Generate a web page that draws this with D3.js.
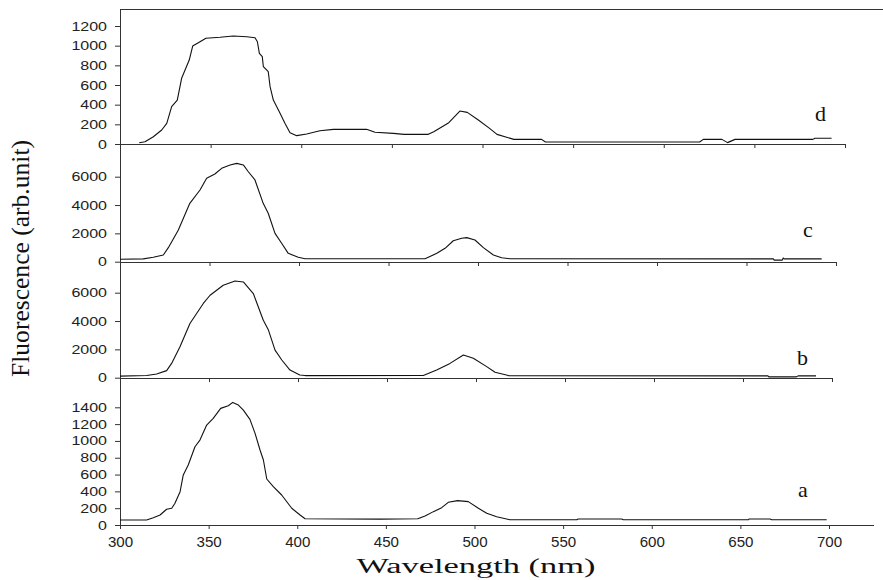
<!DOCTYPE html>
<html><head><meta charset="utf-8">
<script src="https://cdn.jsdelivr.net/npm/d3@7"></script>
<style>body{margin:0;background:#fff}svg{display:block}</style>
</head><body><svg id="chart" width="883" height="580"></svg>
<script>
// ---------- data ----------
const wavelengthTicks = [300, 350, 400, 450, 500, 550, 600, 650, 700];
const ticksA = [0, 200, 400, 600, 800, 1000, 1200, 1400];
const ticksB = [0, 2000, 4000, 6000];
const ticksC = [0, 2000, 4000, 6000];
const ticksD = [0, 200, 400, 600, 800, 1000, 1200];
const panelLabels = ["a", "b", "c", "d"];
const xTitle = "Wavelength (nm)";
const yTitle = "Fluorescence (arb.unit)";

const seriesA = [[300,60],[315,60],[318.8,87],[322.6,119],[326.3,187],[329.2,199],[331,258],[333.9,396],[335.7,595],[338.5,713],[342.3,931],[345.1,1010],[348.9,1189],[352.6,1268],[356.8,1387],[361.1,1418],[363.6,1458],[366.8,1427],[369.6,1367],[373.3,1256],[376.2,1090],[379,892],[380.9,773],[382.8,547],[386.5,456],[391.2,357],[396.9,199],[401.6,119],[404.4,75],[446.7,70],[468,75],[472.1,107],[476.8,159],[481.5,206],[485.2,270],[490.5,290],[496.5,278],[502.2,199],[506.9,139],[512.5,99],[520,62],[557.7,62],[558.5,72],[583,72],[584,62],[654.5,62],[655,72],[666.7,72],[667.7,62],[698.7,62]];
const seriesB = [[300,110],[315,150],[320.6,260],[326.2,500],[329,1010],[333.7,2180],[339.3,3830],[346.8,5240],[350.6,5820],[358,6530],[364.6,6830],[369.3,6760],[374.9,5940],[380.5,4060],[383.4,3360],[387.1,1950],[390.9,1250],[395.5,540],[401,190],[404,150],[470.4,160],[477.9,540],[485.4,1010],[492.9,1600],[498.5,1370],[506,780],[510.7,380],[518.2,150],[664,130],[664.5,60],[680,60],[681,130],[691,130]];
const seriesC = [[300,170],[313,200],[318.6,310],[324.2,473],[327,990],[332.6,2240],[339,4120],[344.7,5060],[348.4,5890],[353,6190],[356.8,6590],[361.5,6830],[365.2,6940],[368.9,6830],[371.7,6350],[375.4,5770],[380,4120],[382.8,3420],[386.6,2000],[390.3,1300],[394,590],[399.6,310],[403.4,212],[470.4,212],[477,590],[481.6,945],[486.2,1480],[490.9,1650],[493.7,1700],[498.3,1530],[503,990],[508.6,470],[513.2,280],[517.9,212],[665,200],[665.5,110],[670,110],[670.5,260],[671,200],[692,200]];
const seriesD = [[310.6,13],[313.8,23],[318.4,74],[323,142],[325.8,210],[328.5,380],[331.6,447],[334,668],[338.2,854],[340.1,996],[343.2,1030],[347.4,1075],[355.2,1085],[362.5,1098],[369.9,1090],[374.5,1080],[375.8,1040],[376.9,922],[378.5,888],[379.1,786],[381.8,735],[382.8,583],[384.6,447],[388.3,312],[391,210],[393.8,115],[397.5,85],[403,102],[410.3,135],[417.7,149],[436,149],[440.7,119],[450.8,108],[456.7,98],[470.1,98],[473.1,125],[481.4,217],[487.5,335],[491.6,322],[497.7,244],[503.9,159],[508,98],[517.3,47],[532.6,47],[534.7,20],[619.8,20],[621.8,47],[632.1,47],[635.2,14],[639.3,47],[682.3,47],[683.4,58],[692.6,58]];

// ---------- layout ----------
const left = 120;
const panels = [
  {label: panelLabels[3], data: seriesD, ticks: ticksD, x700: 845, axisEnd: 845, y0: 144, yTop: 26, lx: 815, ly: 121},
  {label: panelLabels[2], data: seriesC, ticks: ticksC, x700: 836, axisEnd: 836, y0: 261.7, yTop: 176.7, lx: 803, ly: 237},
  {label: panelLabels[1], data: seriesB, ticks: ticksB, x700: 832, axisEnd: 832, y0: 377.7, yTop: 292.7, lx: 797, ly: 365},
  {label: panelLabels[0], data: seriesA, ticks: ticksA, x700: 829, axisEnd: 874, y0: 525, yTop: 407.3, lx: 798, ly: 497, showX: true}
];

const svg = d3.select("#chart");
const axisColor = "#333";
const textColor = "#222";
const sans = "'Liberation Sans', Arial, sans-serif";
const serif = "'Liberation Serif', 'Times New Roman', serif";

// top border line and continuous left axis
svg.append("line").attr("x1", left).attr("x2", 883).attr("y1", 9.5).attr("y2", 9.5)
  .attr("stroke", axisColor).attr("stroke-width", 1);
svg.append("line").attr("x1", left + 0.5).attr("x2", left + 0.5).attr("y1", 9).attr("y2", 525.5)
  .attr("stroke", axisColor).attr("stroke-width", 1);

panels.forEach(p => {
  const x = d3.scaleLinear().domain([300, 700]).range([left, p.x700]);
  const vTop = p.ticks[p.ticks.length - 1];
  const y = d3.scaleLinear().domain([0, vTop]).range([p.y0, p.yTop]);
  const g = svg.append("g");

  // x axis line
  const ya = Math.round(p.y0) + 0.5;
  g.append("line").attr("x1", left).attr("x2", p.axisEnd).attr("y1", ya).attr("y2", ya)
    .attr("stroke", axisColor).attr("stroke-width", 1);

  const xAxis = d3.axisBottom(x).tickValues(wavelengthTicks).tickSize(4).tickPadding(8)
    .tickFormat(p.showX ? d3.format("d") : () => "");
  const gx = g.append("g").attr("transform", `translate(0,${Math.round(p.y0)})`).call(xAxis);
  gx.select(".domain").remove();
  gx.selectAll(".tick line").attr("stroke", axisColor);
  gx.selectAll(".tick text").attr("fill", textColor).attr("font-family", sans).attr("font-size", 14)
    .attr("textLength", d => String(d).length * 8.4).attr("lengthAdjust", "spacingAndGlyphs");

  const yAxis = d3.axisLeft(y).tickValues(p.ticks).tickSize(5).tickPadding(8).tickFormat(d3.format("d"));
  const gy = g.append("g").attr("transform", `translate(${left},0)`).call(yAxis);
  gy.select(".domain").remove();
  gy.selectAll(".tick line").attr("stroke", axisColor);
  gy.selectAll(".tick text").attr("fill", textColor).attr("font-family", sans).attr("font-size", 12.5)
    .attr("textLength", d => String(d).length * 8.9).attr("lengthAdjust", "spacingAndGlyphs");

  // data line
  const line = d3.line().x(d => x(d[0])).y(d => y(d[1]));
  g.append("path").datum(p.data).attr("d", line).attr("fill", "none")
    .attr("stroke", "#111").attr("stroke-width", 1.1).attr("stroke-linejoin", "round");

  // panel label
  g.append("text").attr("x", p.lx).attr("y", p.ly).text(p.label)
    .attr("font-family", serif).attr("font-size", 22).attr("fill", "#111");
});

// axis titles
svg.append("text").attr("x", 476).attr("y", 573).attr("text-anchor", "middle")
  .attr("font-family", serif).attr("font-size", 20).attr("fill", "#111")
  .attr("textLength", 239).attr("lengthAdjust", "spacingAndGlyphs").text(xTitle);
svg.append("text").attr("transform", "translate(28.5,258.5) rotate(-90)").attr("text-anchor", "middle")
  .attr("font-family", serif).attr("font-size", 25).attr("fill", "#111")
  .attr("textLength", 237).attr("lengthAdjust", "spacingAndGlyphs").text(yTitle);
</script></body></html>
